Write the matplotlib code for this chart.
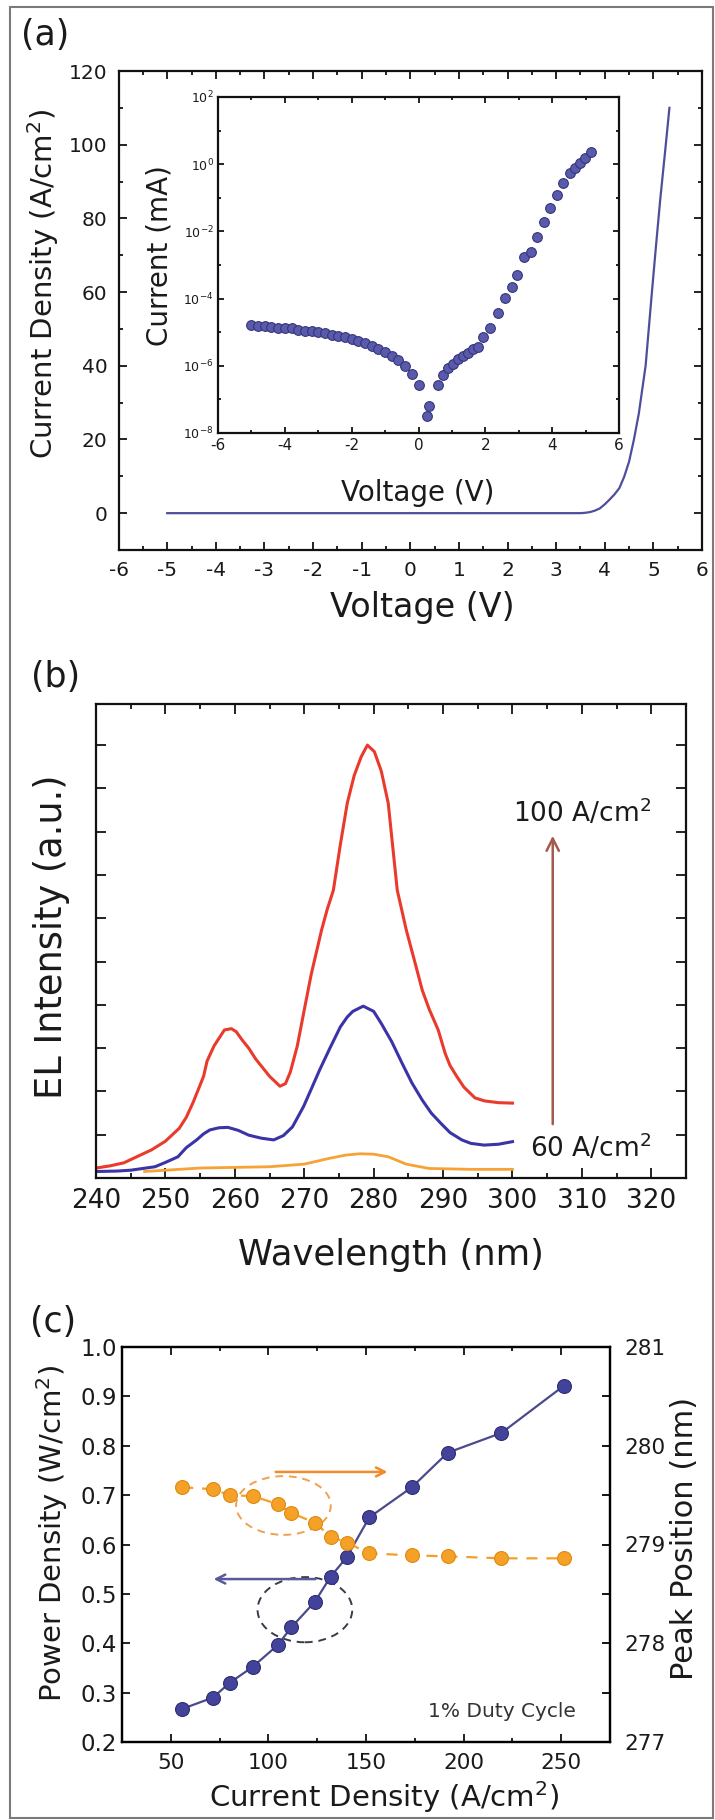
import matplotlib
matplotlib.use('Agg')
import matplotlib.pyplot as plt
from matplotlib.patches import Ellipse, Rectangle
from matplotlib.ticker import MultipleLocator, FixedLocator, FixedFormatter, NullFormatter

plt.rcParams['font.family'] = ['DejaVu Sans']
plt.rcParams['mathtext.fontset'] = 'dejavusans'
plt.rcParams['axes.unicode_minus'] = False

# ---------------- data ----------------
# (a) main J-V curve
volt_a = [-5.0, 3.5, 3.6, 3.7, 3.8, 3.9, 4.0, 4.1, 4.2, 4.3, 4.4, 4.5, 4.6, 4.7, 4.84,
          4.97, 5.05, 5.14, 5.24, 5.33]
jdens_a = [0.0, 0.0, 0.1, 0.3, 0.7, 1.3, 2.4, 3.7, 5.1, 6.8, 9.9, 14.0, 20.0, 27.0, 40.0,
           60.0, 72.0, 85.0, 98.0, 110.0]

# (a) inset: current (mA)
volt_inset = [-5.0, -4.8, -4.6, -4.4, -4.2, -4.0, -3.8, -3.6, -3.4, -3.2, -3.0, -2.8, -2.6,
              -2.4, -2.2, -2.0, -1.8, -1.6, -1.4, -1.2, -1.0, -0.8, -0.6, -0.4, -0.2, 0.0,
              0.24, 0.32, 0.59, 0.74, 0.89, 1.04, 1.19, 1.34, 1.49, 1.64, 1.79, 1.94, 2.14,
              2.39, 2.59, 2.79, 2.94, 3.16, 3.36, 3.54, 3.75, 3.95, 4.13, 4.33, 4.53, 4.68,
              4.83, 4.98, 5.15]
current_inset = [1.62e-5, 1.58e-5, 1.51e-5, 1.44e-5, 1.38e-5, 1.35e-5, 1.29e-5, 1.20e-5,
                 1.12e-5, 1.07e-5, 1.00e-5, 9.3e-6, 8.5e-6, 7.8e-6, 7.1e-6, 6.3e-6, 5.5e-6,
                 4.7e-6, 3.9e-6, 3.2e-6, 2.5e-6, 2.0e-6, 1.45e-6, 1.0e-6, 5.8e-7, 2.7e-7,
                 3.2e-8, 6.3e-8, 2.7e-7, 5.4e-7, 8.5e-7, 1.17e-6, 1.58e-6, 1.95e-6, 2.45e-6,
                 3.1e-6, 3.7e-6, 7.4e-6, 1.32e-5, 3.8e-5, 1.02e-4, 2.24e-4, 5.0e-4, 1.78e-3,
                 2.5e-3, 6.6e-3, 1.95e-2, 5.1e-2, 0.12, 0.27, 0.54, 0.76, 1.07, 1.51, 2.34]

# (b) EL spectra (100, intermediate, 60 A/cm2)
wl_100 = [240, 242, 244, 246, 248, 250, 252, 253, 254, 255.5, 256, 257, 258.5, 259.5, 260.2,
          261, 262, 263, 264, 265, 266.5, 267.3, 268, 269, 270, 271, 272.5, 273.3, 274.2,
          275.2, 276.2, 277.2, 278.2, 279.1, 280.1, 281.1, 282.1, 283.4, 284.7, 286, 287,
          288, 289.3, 290.3, 291, 292, 293, 294.6, 296, 298, 300]
el_100 = [0.23, 0.28, 0.35, 0.50, 0.65, 0.85, 1.15, 1.40, 1.75, 2.35, 2.70, 3.05, 3.42, 3.45,
          3.38, 3.20, 3.00, 2.75, 2.55, 2.35, 2.12, 2.18, 2.45, 3.05, 3.88, 4.70, 5.73, 6.20,
          6.65, 7.70, 8.66, 9.30, 9.73, 10.0, 9.85, 9.40, 8.66, 6.65, 5.73, 4.95, 4.34, 3.90,
          3.42, 2.88, 2.60, 2.34, 2.10, 1.85, 1.78, 1.74, 1.73]
wl_80 = [240, 243, 245, 248.5, 250, 251.8, 253, 254.5, 255.5, 256.4, 257.7, 259, 260.5, 262,
         263.8, 265.6, 267, 268.3, 269.9, 271, 272.2, 273.7, 275.2, 276.2, 277, 278.5, 280,
         281.1, 282.6, 284.1, 285.5, 287, 288.3, 289.7, 291, 292.7, 294, 295.9, 298, 300]
el_80 = [0.15, 0.16, 0.18, 0.26, 0.36, 0.49, 0.70, 0.88, 1.02, 1.11, 1.16, 1.17, 1.10, 0.99,
         0.92, 0.88, 0.98, 1.18, 1.65, 2.05, 2.49, 3.00, 3.49, 3.72, 3.85, 3.97, 3.85, 3.57,
         3.15, 2.65, 2.20, 1.80, 1.50, 1.26, 1.05, 0.88, 0.80, 0.76, 0.78, 0.84]
wl_60 = [247, 255, 265, 270, 273.5, 276, 278, 280, 282.1, 284.7, 288, 294, 300]
el_60 = [0.15, 0.23, 0.26, 0.32, 0.45, 0.53, 0.56, 0.55, 0.49, 0.32, 0.22, 0.20, 0.20]

# (c) power density and peak position vs current density
cur_c = [55.8, 71.6, 80.2, 91.9, 104.7, 111.7, 123.8, 131.9, 140.1, 151.7, 173.5, 191.9, 219.4, 251.2]
power_c = [0.267, 0.290, 0.320, 0.352, 0.396, 0.432, 0.484, 0.535, 0.574, 0.655, 0.716, 0.786, 0.826, 0.921]
peak_c = [279.58, 279.56, 279.50, 279.49, 279.41, 279.32, 279.22, 279.08, 279.02, 278.91,
          278.89, 278.88, 278.86, 278.86]

# ---------------- figure ----------------
W, H = 715, 1820
fig = plt.figure(figsize=(W / 100, H / 100), dpi=100)

def box(l, t, r, b):
    return [l / W, 1 - b / H, (r - l) / W, (b - t) / H]

fig.patches.append(Rectangle((10 / W, 2 / H), (713 - 10) / W, (1813 - 2) / H,
                             transform=fig.transFigure, fill=False,
                             edgecolor='#7a7a7a', linewidth=1.5))

TXT = '#1a1a1a'
NAVY = '#4e4e9a'
MK_FACE = '#5a5aac'
MK_EDGE = '#35357a'
ORANGE = '#f2a02a'

def style(ax, lsize):
    for s in ax.spines.values():
        s.set_linewidth(1.6)
        s.set_color('#111111')
    ax.tick_params(which='both', direction='in', top=True, right=True, width=1.3,
                   labelsize=lsize, labelcolor=TXT, colors='#111111')
    ax.tick_params(which='major', length=6)
    ax.tick_params(which='minor', length=3)

# ----- (a) -----
ax_a = fig.add_axes(box(118.6, 71, 702, 550))
ax_a.plot(volt_a, jdens_a, color=NAVY, lw=1.6)
ax_a.set_xlim(-6, 6)
ax_a.set_ylim(-10, 120)
ax_a.xaxis.set_major_locator(MultipleLocator(1))
ax_a.xaxis.set_minor_locator(MultipleLocator(0.5))
ax_a.yaxis.set_major_locator(FixedLocator([0, 20, 40, 60, 80, 100, 120]))
ax_a.yaxis.set_minor_locator(FixedLocator([10, 30, 50, 70, 90, 110]))
style(ax_a, 14.5)
ax_a.tick_params(axis='x', pad=8)
ax_a.tick_params(axis='y', pad=8)
ax_a.set_xlabel('Voltage (V)', fontsize=24, color=TXT)
ax_a.xaxis.set_label_coords(0.52, -0.119)
ax_a.xaxis.label.set_va('center')
ax_a.set_ylabel('Current Density (A/cm$^2$)', fontsize=21, color=TXT)
ax_a.yaxis.set_label_coords(-0.13, 0.555)
ax_a.yaxis.label.set_va('center')
fig.text(45 / W, 1 - 35 / H, '(a)', fontsize=25, ha='center', va='center', color=TXT)

# inset
ax_i = fig.add_axes(box(218, 97, 619, 433))
ax_i.semilogy(volt_inset, current_inset, linestyle='none', marker='o', markersize=7,
              markerfacecolor=MK_FACE, markeredgecolor=MK_EDGE, markeredgewidth=0.8)
ax_i.set_xlim(-6, 6)
ax_i.set_ylim(1e-8, 1e2)
ax_i.xaxis.set_major_locator(MultipleLocator(2))
ax_i.xaxis.set_minor_locator(MultipleLocator(1))
ax_i.yaxis.set_major_locator(FixedLocator([1e-8, 1e-6, 1e-4, 1e-2, 1e0, 1e2]))
ax_i.yaxis.set_major_formatter(FixedFormatter(['10$^{-8}$', '10$^{-6}$', '10$^{-4}$',
                                               '10$^{-2}$', '10$^{0}$', '10$^{2}$']))
ax_i.yaxis.set_minor_locator(FixedLocator([1e-7, 1e-5, 1e-3, 1e-1, 1e1]))
ax_i.yaxis.set_minor_formatter(NullFormatter())
style(ax_i, 11)
ax_i.tick_params(axis='y', labelsize=9, pad=3)
ax_i.tick_params(which='major', length=4)
ax_i.tick_params(which='minor', length=2.5)
ax_i.set_xlabel('Voltage (V)', fontsize=20, color=TXT)
ax_i.xaxis.set_label_coords(0.4988, -0.179)
ax_i.xaxis.label.set_va('center')
ax_i.set_ylabel('Current (mA)', fontsize=20, color=TXT)
ax_i.yaxis.set_label_coords(-0.145, 0.527)
ax_i.yaxis.label.set_va('center')

# ----- (b) -----
ax_b = fig.add_axes(box(96, 704, 686, 1178))
ax_b.plot(wl_60, el_60, color='#f7a234', lw=2.0)
ax_b.plot(wl_80, el_80, color='#3b34a6', lw=2.2)
ax_b.plot(wl_100, el_100, color='#ea3a2c', lw=2.2)
ax_b.set_xlim(240, 325)
ax_b.set_ylim(0, 10.95)
ax_b.xaxis.set_major_locator(MultipleLocator(10))
ax_b.xaxis.set_minor_locator(MultipleLocator(5))
ax_b.yaxis.set_major_locator(FixedLocator([1, 2, 3, 4, 5, 6, 7, 8, 9, 10]))
ax_b.yaxis.set_major_formatter(NullFormatter())
style(ax_b, 19)
ax_b.tick_params(which='major', length=7)
ax_b.tick_params(which='minor', length=3.5)
ax_b.tick_params(axis='x', pad=7)
ax_b.set_xlabel('Wavelength (nm)', fontsize=25.5, color=TXT)
ax_b.xaxis.set_label_coords(0.5, -0.1624)
ax_b.xaxis.label.set_va('center')
ax_b.set_ylabel('EL Intensity (a.u.)', fontsize=26.5, color=TXT)
ax_b.yaxis.set_label_coords(-0.075, 0.51)
ax_b.yaxis.label.set_va('center')
ax_b.annotate('', xy=(305.8, 7.97), xytext=(305.8, 1.18),
              arrowprops=dict(arrowstyle='->', color='#a35a4e', lw=1.8, mutation_scale=22))
ax_b.text(310.0, 8.43, '100 A/cm$^2$', fontsize=19, ha='center', va='center', color=TXT)
ax_b.text(311.3, 0.69, '60 A/cm$^2$', fontsize=19, ha='center', va='center', color=TXT)
fig.text(56 / W, 1 - 677 / H, '(b)', fontsize=25, ha='center', va='center', color=TXT)

# ----- (c) -----
ax_c = fig.add_axes(box(122, 1347, 610, 1742))
ax_c2 = ax_c.twinx()
ax_c.plot(cur_c, power_c, color='#4a4a8c', lw=1.6, marker='o', markersize=10,
          markerfacecolor='#43439c', markeredgecolor='#2e2e70', markeredgewidth=0.8, zorder=3)
ax_c2.plot(cur_c, peak_c, color=ORANGE, lw=1.6, linestyle=(0, (5, 4)), marker='o',
           markersize=10, markerfacecolor='#f5a128', markeredgecolor='#e08a10',
           markeredgewidth=0.8)
ax_c.set_xlim(25, 275)
ax_c.set_ylim(0.2, 1.0)
ax_c2.set_ylim(277, 281)
ax_c.xaxis.set_major_locator(MultipleLocator(50))
ax_c.xaxis.set_minor_locator(MultipleLocator(25))
ax_c.yaxis.set_major_locator(FixedLocator([0.2, 0.3, 0.4, 0.5, 0.6, 0.7, 0.8, 0.9, 1.0]))
ax_c.yaxis.set_major_formatter(FixedFormatter(['0.2', '0.3', '0.4', '0.5', '0.6', '0.7',
                                               '0.8', '0.9', '1.0']))
ax_c2.yaxis.set_major_locator(MultipleLocator(1))
ax_c2.yaxis.set_minor_locator(MultipleLocator(0.5))
style(ax_c, 16.5)
ax_c.tick_params(right=False, which='both')
ax_c.tick_params(axis='x', labelsize=15.5, pad=8)
for s in ax_c2.spines.values():
    s.set_linewidth(1.6)
ax_c2.tick_params(which='both', direction='in', width=1.3, labelsize=15.5, labelcolor=TXT,
                  pad=10)
ax_c2.tick_params(which='major', length=6)
ax_c2.tick_params(which='minor', length=6)
ax_c.set_xlabel('Current Density (A/cm$^2$)', fontsize=21, color=TXT)
ax_c.xaxis.set_label_coords(0.537, -0.139)
ax_c.xaxis.label.set_va('center')
ax_c.set_ylabel('Power Density (W/cm$^2$)', fontsize=21, color=TXT)
ax_c.yaxis.set_label_coords(-0.143, 0.529)
ax_c.yaxis.label.set_va('center')
ax_c2.set_ylabel('Peak Position (nm)', fontsize=22, color=TXT, rotation=90)
ax_c2.yaxis.set_label_coords(1.152, 0.516)
ax_c2.yaxis.label.set_va('center')

ax_c.add_patch(Ellipse((107.7, 0.679), 48.5, 0.119, fill=False, edgecolor='#f0a050',
                       linestyle=(0, (4, 3)), lw=1.4, zorder=1))
ax_c.add_patch(Ellipse((118.7, 0.468), 48.5, 0.132, fill=False, edgecolor='#3a3a4a',
                       linestyle=(0, (4, 3)), lw=1.4, zorder=1))
ax_c.annotate('', xy=(162.5, 0.747), xytext=(102.3, 0.747),
              arrowprops=dict(arrowstyle='->', color='#f08c2a', lw=1.8, mutation_scale=16))
ax_c.annotate('', xy=(70.5, 0.530), xytext=(125.5, 0.530),
              arrowprops=dict(arrowstyle='->', color='#5a5a9a', lw=1.8, mutation_scale=16))
ax_c.text(219.4, 0.261, '1% Duty Cycle', fontsize=14.5, ha='center', va='center', color='#333333')
fig.text(53 / W, 1 - 1322 / H, '(c)', fontsize=25, ha='center', va='center', color=TXT)

fig.savefig('out.png', dpi=100)
